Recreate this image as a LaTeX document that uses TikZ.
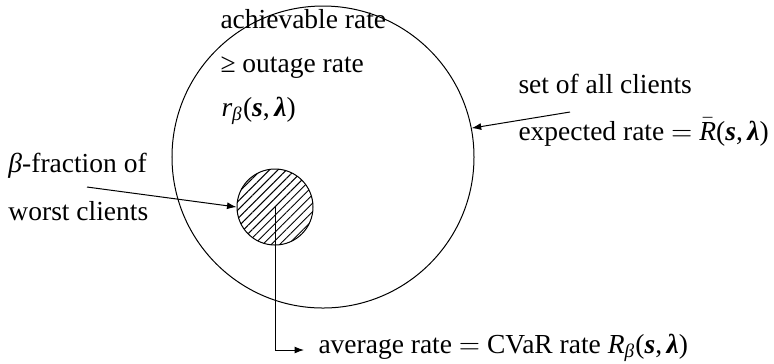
\documentclass[tikz,border=0pt]{standalone}
\usepackage{amsmath}
\usepackage{fontspec}
\setmainfont{Liberation Serif}
\usetikzlibrary{arrows.meta,patterns.meta}
\newcommand{\myS}{\textbf{\textit{s}}}
\newcommand{\myL}{\textbf{\textit{λ}}}
\newcommand{\myArgs}{(\myS,\,\myL)}
\tikzset{
  lbl/.style={anchor=base west, inner sep=0pt, font=\fontsize{11}{13}\selectfont},
  arr/.style={-{Latex[length=3.8pt,width=2.8pt]}, line width=0.4pt},
}
\begin{document}
\begin{tikzpicture}[x=0.4pt,y=-0.4pt]
\useasboundingbox (0,0) rectangle (774,363);
% big circle
\node[draw, circle, line width=0.4pt, minimum size=120.8pt, inner sep=0pt] (big) at (323,157) {};
% small hatched circle
\node[draw, circle, line width=0.4pt, minimum size=30.4pt, inner sep=0pt,
      pattern={Lines[angle=45,distance=2.4pt,line width=0.4pt]}] (small) at (275,207) {};
% texts
\node[lbl] (t1) at (220,28) {achievable rate};
\node[lbl] (t2) at (220,72) {≥ outage rate};
\node[lbl] (t3) at (221,116) {$\textit{r}_{\textit{β}}$\myArgs};
\node[lbl] (s1) at (518,93) {set of all clients};
\node[lbl] (s2) at (518,140) {expected rate $=$ $\bar{\textit{R}}$\myArgs};
\node[lbl] (b1) at (8,172) {\textit{β}-fraction of};
\node[lbl] (b2) at (8,220) {worst clients};
\node[lbl] (c1) at (318,353) {average rate $=$ CVaR rate $\textit{R}_{\textit{β}}$\myArgs};
% connectors
\coordinate (s0) at (570,112);
\draw[arr] (s0) -- (big.11);
\coordinate (b0) at (87,187);
\draw[arr] (b0) -- (small.west);
\coordinate (cend) at (304,350);
\draw[arr] (small.center) |- (cend);
\end{tikzpicture}
\end{document}
